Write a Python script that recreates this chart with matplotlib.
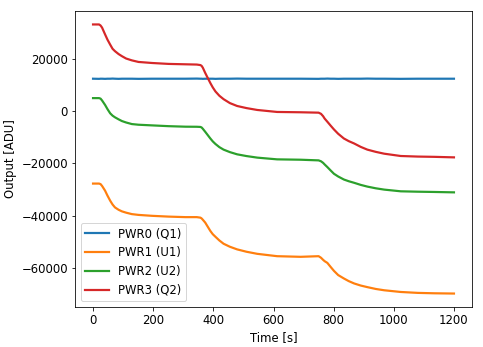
import matplotlib
matplotlib.use("Agg")
import matplotlib.pyplot as plt

time_s = [0, 20, 25, 30, 40, 48, 57, 65, 73, 85, 96, 110, 129, 151, 196, 251, 307, 345,
          357, 361, 365, 373, 380, 390, 398, 407, 420, 434, 455, 479, 510, 546, 612, 690,
          750, 758, 765, 770, 779, 790, 801, 815, 834, 850, 868, 890, 912, 940, 968,
          1023, 1080, 1134, 1200]

pwr0_q1 = [12300, 12250, 12300, 12300, 12250, 12300, 12300, 12350, 12300, 12250,
           12300, 12300, 12300, 12250, 12300, 12300, 12300, 12350, 12300, 12300,
           12250, 12300, 12300, 12300, 12300, 12250, 12300, 12300, 12300, 12350,
           12300, 12300, 12300, 12300, 12250, 12300, 12300, 12300, 12350, 12300,
           12300, 12250, 12300, 12300, 12300, 12300, 12350, 12300, 12300, 12250,
           12300, 12300, 12300]

pwr1_u1 = [-27700, -27700, -27900, -28600, -30400, -32300, -34230, -35700, -36800, -37700,
           -38300, -38800, -39350, -39650, -40000, -40300, -40500, -40500, -40700, -41000,
           -41500, -42580, -43900, -45770, -47000, -48000, -49400, -50650, -51800, -52800,
           -53700, -54500, -55400, -55640, -55400, -56000, -56800, -57300, -57950, -59500,
           -61000, -62600, -63900, -64900, -65800, -66600, -67200, -67900, -68400, -69050,
           -69400, -69550, -69650]

pwr2_u2 = [4900, 4900, 4700, 4000, 2300, 700, -900, -1800, -2430, -3200,
           -3850, -4400, -5000, -5250, -5500, -5800, -6000, -6030, -6100, -6300,
           -6800, -7950, -9000, -10500, -11600, -12600, -13800, -14750, -15700, -16540,
           -17200, -17800, -18460, -18600, -18850, -19200, -19800, -20400, -21400, -22700,
           -23960, -25000, -26150, -26800, -27400, -28200, -28850, -29500, -30000, -30650,
           -30800, -30900, -31050]

pwr3_q2 = [33000, 33000, 32600, 31800, 29200, 27200, 25300, 23700, 22800, 21700,
           20900, 20000, 19300, 18700, 18300, 17950, 17800, 17700, 17500, 17200,
           16500, 14500, 12900, 10650, 9000, 7440, 5800, 4500, 3000, 1900,
           1100, 380, -380, -500, -650, -1100, -2000, -2900, -4100, -5600,
           -7050, -8700, -10500, -11500, -12400, -13700, -14750, -15600, -16300, -17180,
           -17400, -17500, -17700]

series = [("PWR0 (Q1)", pwr0_q1, "#1f77b4"),
          ("PWR1 (U1)", pwr1_u1, "#ff7f0e"),
          ("PWR2 (U2)", pwr2_u2, "#2ca02c"),
          ("PWR3 (Q2)", pwr3_q2, "#d62728")]

plt.rcParams["font.family"] = ["DejaVu Sans"]
plt.rcParams["font.size"] = 11.6

fig = plt.figure(figsize=(483 / 72, 347 / 72), dpi=72)
ax = fig.add_axes([75 / 483, 1 - 307 / 347, (472 - 75) / 483, (307 - 11) / 347])

for label, vals, color in series:
    ax.plot(time_s, vals, color=color, lw=2.2, label=label)

ax.set_xlabel("Time [s]")
ax.set_ylabel("Output [ADU]")
ax.set_yticks([-60000, -40000, -20000, 0, 20000])
ax.set_xticks([0, 200, 400, 600, 800, 1000, 1200])
ax.legend(loc="lower left")

fig.savefig("out.png", dpi=72)
